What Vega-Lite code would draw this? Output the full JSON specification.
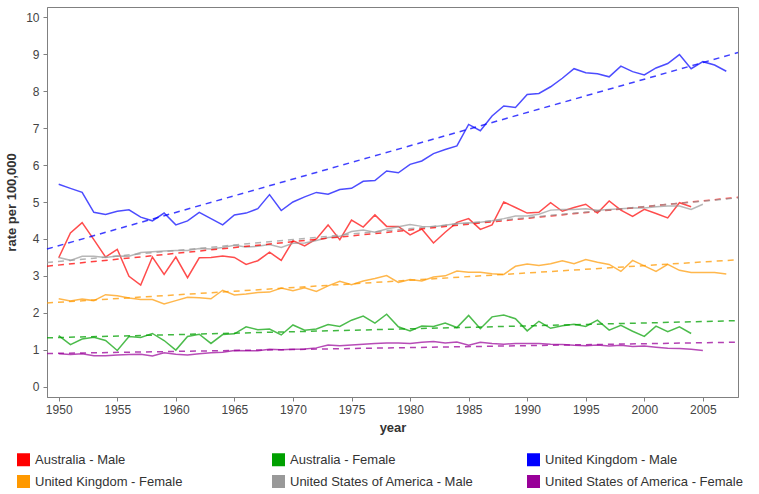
{
"$schema":"https://vega.github.io/schema/vega-lite/v6.json",
"width":691,"height":390,
"autosize":{"type":"none"},
"padding":{"left":47,"top":7,"right":21,"bottom":97},
"background":"white",
"config":{
 "view":{"stroke":"#808080","strokeWidth":1},
 "axis":{"labelFont":"Liberation Sans","titleFont":"Liberation Sans","labelFontSize":12,"titleFontSize":13,"labelColor":"#444444","titleColor":"#333333","domainColor":"#808080","tickColor":"#808080","grid":false,"tickSize":4,"titleFontWeight":"bold"},
 "legend":{"labelFont":"Liberation Sans","labelFontSize":13,"labelColor":"#333333"}
},
"data":{"values":[
{"series":"Australia - Male","year":1950,"rate":3.49},{"series":"Australia - Male","year":1951,"rate":4.16},{"series":"Australia - Male","year":1952,"rate":4.44},{"series":"Australia - Male","year":1953,"rate":3.98},{"series":"Australia - Male","year":1954,"rate":3.51},{"series":"Australia - Male","year":1955,"rate":3.72},{"series":"Australia - Male","year":1956,"rate":2.99},{"series":"Australia - Male","year":1957,"rate":2.75},{"series":"Australia - Male","year":1958,"rate":3.51},{"series":"Australia - Male","year":1959,"rate":3.04},{"series":"Australia - Male","year":1960,"rate":3.51},{"series":"Australia - Male","year":1961,"rate":2.95},{"series":"Australia - Male","year":1962,"rate":3.49},{"series":"Australia - Male","year":1963,"rate":3.5},{"series":"Australia - Male","year":1964,"rate":3.54},{"series":"Australia - Male","year":1965,"rate":3.5},{"series":"Australia - Male","year":1966,"rate":3.31},{"series":"Australia - Male","year":1967,"rate":3.41},{"series":"Australia - Male","year":1968,"rate":3.64},{"series":"Australia - Male","year":1969,"rate":3.42},{"series":"Australia - Male","year":1970,"rate":3.95},{"series":"Australia - Male","year":1971,"rate":3.81},{"series":"Australia - Male","year":1972,"rate":4.0},{"series":"Australia - Male","year":1973,"rate":4.38},{"series":"Australia - Male","year":1974,"rate":3.98},{"series":"Australia - Male","year":1975,"rate":4.51},{"series":"Australia - Male","year":1976,"rate":4.32},{"series":"Australia - Male","year":1977,"rate":4.65},{"series":"Australia - Male","year":1978,"rate":4.34},{"series":"Australia - Male","year":1979,"rate":4.34},{"series":"Australia - Male","year":1980,"rate":4.11},{"series":"Australia - Male","year":1981,"rate":4.27},{"series":"Australia - Male","year":1982,"rate":3.89},{"series":"Australia - Male","year":1983,"rate":4.18},{"series":"Australia - Male","year":1984,"rate":4.45},{"series":"Australia - Male","year":1985,"rate":4.55},{"series":"Australia - Male","year":1986,"rate":4.26},{"series":"Australia - Male","year":1987,"rate":4.38},{"series":"Australia - Male","year":1988,"rate":5.0},{"series":"Australia - Male","year":1989,"rate":4.85},{"series":"Australia - Male","year":1990,"rate":4.7},{"series":"Australia - Male","year":1991,"rate":4.72},{"series":"Australia - Male","year":1992,"rate":4.98},{"series":"Australia - Male","year":1993,"rate":4.75},{"series":"Australia - Male","year":1994,"rate":4.85},{"series":"Australia - Male","year":1995,"rate":4.94},{"series":"Australia - Male","year":1996,"rate":4.7},{"series":"Australia - Male","year":1997,"rate":5.03},{"series":"Australia - Male","year":1998,"rate":4.78},{"series":"Australia - Male","year":1999,"rate":4.61},{"series":"Australia - Male","year":2000,"rate":4.8},{"series":"Australia - Male","year":2001,"rate":4.69},{"series":"Australia - Male","year":2002,"rate":4.57},{"series":"Australia - Male","year":2003,"rate":4.98},{"series":"Australia - Male","year":2004,"rate":4.87},
{"series":"Australia - Female","year":1950,"rate":1.38},{"series":"Australia - Female","year":1951,"rate":1.14},{"series":"Australia - Female","year":1952,"rate":1.29},{"series":"Australia - Female","year":1953,"rate":1.34},{"series":"Australia - Female","year":1954,"rate":1.25},{"series":"Australia - Female","year":1955,"rate":0.98},{"series":"Australia - Female","year":1956,"rate":1.36},{"series":"Australia - Female","year":1957,"rate":1.33},{"series":"Australia - Female","year":1958,"rate":1.44},{"series":"Australia - Female","year":1959,"rate":1.25},{"series":"Australia - Female","year":1960,"rate":0.99},{"series":"Australia - Female","year":1961,"rate":1.36},{"series":"Australia - Female","year":1962,"rate":1.42},{"series":"Australia - Female","year":1963,"rate":1.17},{"series":"Australia - Female","year":1964,"rate":1.41},{"series":"Australia - Female","year":1965,"rate":1.43},{"series":"Australia - Female","year":1966,"rate":1.62},{"series":"Australia - Female","year":1967,"rate":1.54},{"series":"Australia - Female","year":1968,"rate":1.56},{"series":"Australia - Female","year":1969,"rate":1.4},{"series":"Australia - Female","year":1970,"rate":1.67},{"series":"Australia - Female","year":1971,"rate":1.53},{"series":"Australia - Female","year":1972,"rate":1.56},{"series":"Australia - Female","year":1973,"rate":1.68},{"series":"Australia - Female","year":1974,"rate":1.63},{"series":"Australia - Female","year":1975,"rate":1.8},{"series":"Australia - Female","year":1976,"rate":1.91},{"series":"Australia - Female","year":1977,"rate":1.72},{"series":"Australia - Female","year":1978,"rate":1.96},{"series":"Australia - Female","year":1979,"rate":1.62},{"series":"Australia - Female","year":1980,"rate":1.51},{"series":"Australia - Female","year":1981,"rate":1.64},{"series":"Australia - Female","year":1982,"rate":1.63},{"series":"Australia - Female","year":1983,"rate":1.72},{"series":"Australia - Female","year":1984,"rate":1.6},{"series":"Australia - Female","year":1985,"rate":1.93},{"series":"Australia - Female","year":1986,"rate":1.57},{"series":"Australia - Female","year":1987,"rate":1.89},{"series":"Australia - Female","year":1988,"rate":1.94},{"series":"Australia - Female","year":1989,"rate":1.84},{"series":"Australia - Female","year":1990,"rate":1.51},{"series":"Australia - Female","year":1991,"rate":1.77},{"series":"Australia - Female","year":1992,"rate":1.58},{"series":"Australia - Female","year":1993,"rate":1.65},{"series":"Australia - Female","year":1994,"rate":1.69},{"series":"Australia - Female","year":1995,"rate":1.63},{"series":"Australia - Female","year":1996,"rate":1.8},{"series":"Australia - Female","year":1997,"rate":1.53},{"series":"Australia - Female","year":1998,"rate":1.66},{"series":"Australia - Female","year":1999,"rate":1.5},{"series":"Australia - Female","year":2000,"rate":1.36},{"series":"Australia - Female","year":2001,"rate":1.64},{"series":"Australia - Female","year":2002,"rate":1.49},{"series":"Australia - Female","year":2003,"rate":1.62},{"series":"Australia - Female","year":2004,"rate":1.44},
{"series":"United Kingdom - Male","year":1950,"rate":5.48},{"series":"United Kingdom - Male","year":1951,"rate":5.37},{"series":"United Kingdom - Male","year":1952,"rate":5.26},{"series":"United Kingdom - Male","year":1953,"rate":4.72},{"series":"United Kingdom - Male","year":1954,"rate":4.66},{"series":"United Kingdom - Male","year":1955,"rate":4.75},{"series":"United Kingdom - Male","year":1956,"rate":4.79},{"series":"United Kingdom - Male","year":1957,"rate":4.59},{"series":"United Kingdom - Male","year":1958,"rate":4.49},{"series":"United Kingdom - Male","year":1959,"rate":4.7},{"series":"United Kingdom - Male","year":1960,"rate":4.38},{"series":"United Kingdom - Male","year":1961,"rate":4.49},{"series":"United Kingdom - Male","year":1962,"rate":4.72},{"series":"United Kingdom - Male","year":1963,"rate":4.55},{"series":"United Kingdom - Male","year":1964,"rate":4.38},{"series":"United Kingdom - Male","year":1965,"rate":4.65},{"series":"United Kingdom - Male","year":1966,"rate":4.7},{"series":"United Kingdom - Male","year":1967,"rate":4.82},{"series":"United Kingdom - Male","year":1968,"rate":5.2},{"series":"United Kingdom - Male","year":1969,"rate":4.77},{"series":"United Kingdom - Male","year":1970,"rate":5.0},{"series":"United Kingdom - Male","year":1971,"rate":5.14},{"series":"United Kingdom - Male","year":1972,"rate":5.26},{"series":"United Kingdom - Male","year":1973,"rate":5.21},{"series":"United Kingdom - Male","year":1974,"rate":5.34},{"series":"United Kingdom - Male","year":1975,"rate":5.37},{"series":"United Kingdom - Male","year":1976,"rate":5.56},{"series":"United Kingdom - Male","year":1977,"rate":5.58},{"series":"United Kingdom - Male","year":1978,"rate":5.84},{"series":"United Kingdom - Male","year":1979,"rate":5.79},{"series":"United Kingdom - Male","year":1980,"rate":6.02},{"series":"United Kingdom - Male","year":1981,"rate":6.11},{"series":"United Kingdom - Male","year":1982,"rate":6.31},{"series":"United Kingdom - Male","year":1983,"rate":6.42},{"series":"United Kingdom - Male","year":1984,"rate":6.52},{"series":"United Kingdom - Male","year":1985,"rate":7.1},{"series":"United Kingdom - Male","year":1986,"rate":6.93},{"series":"United Kingdom - Male","year":1987,"rate":7.33},{"series":"United Kingdom - Male","year":1988,"rate":7.6},{"series":"United Kingdom - Male","year":1989,"rate":7.56},{"series":"United Kingdom - Male","year":1990,"rate":7.91},{"series":"United Kingdom - Male","year":1991,"rate":7.94},{"series":"United Kingdom - Male","year":1992,"rate":8.12},{"series":"United Kingdom - Male","year":1993,"rate":8.35},{"series":"United Kingdom - Male","year":1994,"rate":8.61},{"series":"United Kingdom - Male","year":1995,"rate":8.5},{"series":"United Kingdom - Male","year":1996,"rate":8.47},{"series":"United Kingdom - Male","year":1997,"rate":8.39},{"series":"United Kingdom - Male","year":1998,"rate":8.68},{"series":"United Kingdom - Male","year":1999,"rate":8.53},{"series":"United Kingdom - Male","year":2000,"rate":8.44},{"series":"United Kingdom - Male","year":2001,"rate":8.63},{"series":"United Kingdom - Male","year":2002,"rate":8.75},{"series":"United Kingdom - Male","year":2003,"rate":8.99},{"series":"United Kingdom - Male","year":2004,"rate":8.61},{"series":"United Kingdom - Male","year":2005,"rate":8.8},{"series":"United Kingdom - Male","year":2006,"rate":8.71},{"series":"United Kingdom - Male","year":2007,"rate":8.54},
{"series":"United Kingdom - Female","year":1950,"rate":2.38},{"series":"United Kingdom - Female","year":1951,"rate":2.32},{"series":"United Kingdom - Female","year":1952,"rate":2.37},{"series":"United Kingdom - Female","year":1953,"rate":2.33},{"series":"United Kingdom - Female","year":1954,"rate":2.49},{"series":"United Kingdom - Female","year":1955,"rate":2.46},{"series":"United Kingdom - Female","year":1956,"rate":2.4},{"series":"United Kingdom - Female","year":1957,"rate":2.36},{"series":"United Kingdom - Female","year":1958,"rate":2.36},{"series":"United Kingdom - Female","year":1959,"rate":2.24},{"series":"United Kingdom - Female","year":1960,"rate":2.33},{"series":"United Kingdom - Female","year":1961,"rate":2.42},{"series":"United Kingdom - Female","year":1962,"rate":2.41},{"series":"United Kingdom - Female","year":1963,"rate":2.38},{"series":"United Kingdom - Female","year":1964,"rate":2.61},{"series":"United Kingdom - Female","year":1965,"rate":2.48},{"series":"United Kingdom - Female","year":1966,"rate":2.51},{"series":"United Kingdom - Female","year":1967,"rate":2.55},{"series":"United Kingdom - Female","year":1968,"rate":2.56},{"series":"United Kingdom - Female","year":1969,"rate":2.67},{"series":"United Kingdom - Female","year":1970,"rate":2.6},{"series":"United Kingdom - Female","year":1971,"rate":2.68},{"series":"United Kingdom - Female","year":1972,"rate":2.58},{"series":"United Kingdom - Female","year":1973,"rate":2.73},{"series":"United Kingdom - Female","year":1974,"rate":2.85},{"series":"United Kingdom - Female","year":1975,"rate":2.76},{"series":"United Kingdom - Female","year":1976,"rate":2.86},{"series":"United Kingdom - Female","year":1977,"rate":2.93},{"series":"United Kingdom - Female","year":1978,"rate":3.01},{"series":"United Kingdom - Female","year":1979,"rate":2.82},{"series":"United Kingdom - Female","year":1980,"rate":2.9},{"series":"United Kingdom - Female","year":1981,"rate":2.86},{"series":"United Kingdom - Female","year":1982,"rate":2.97},{"series":"United Kingdom - Female","year":1983,"rate":3.0},{"series":"United Kingdom - Female","year":1984,"rate":3.13},{"series":"United Kingdom - Female","year":1985,"rate":3.1},{"series":"United Kingdom - Female","year":1986,"rate":3.1},{"series":"United Kingdom - Female","year":1987,"rate":3.06},{"series":"United Kingdom - Female","year":1988,"rate":3.04},{"series":"United Kingdom - Female","year":1989,"rate":3.26},{"series":"United Kingdom - Female","year":1990,"rate":3.32},{"series":"United Kingdom - Female","year":1991,"rate":3.28},{"series":"United Kingdom - Female","year":1992,"rate":3.33},{"series":"United Kingdom - Female","year":1993,"rate":3.41},{"series":"United Kingdom - Female","year":1994,"rate":3.33},{"series":"United Kingdom - Female","year":1995,"rate":3.44},{"series":"United Kingdom - Female","year":1996,"rate":3.37},{"series":"United Kingdom - Female","year":1997,"rate":3.31},{"series":"United Kingdom - Female","year":1998,"rate":3.12},{"series":"United Kingdom - Female","year":1999,"rate":3.42},{"series":"United Kingdom - Female","year":2000,"rate":3.27},{"series":"United Kingdom - Female","year":2001,"rate":3.12},{"series":"United Kingdom - Female","year":2002,"rate":3.31},{"series":"United Kingdom - Female","year":2003,"rate":3.15},{"series":"United Kingdom - Female","year":2004,"rate":3.09},{"series":"United Kingdom - Female","year":2005,"rate":3.09},{"series":"United Kingdom - Female","year":2006,"rate":3.09},{"series":"United Kingdom - Female","year":2007,"rate":3.05},
{"series":"United States of America - Male","year":1950,"rate":3.5},{"series":"United States of America - Male","year":1951,"rate":3.42},{"series":"United States of America - Male","year":1952,"rate":3.53},{"series":"United States of America - Male","year":1953,"rate":3.53},{"series":"United States of America - Male","year":1954,"rate":3.5},{"series":"United States of America - Male","year":1955,"rate":3.54},{"series":"United States of America - Male","year":1956,"rate":3.53},{"series":"United States of America - Male","year":1957,"rate":3.63},{"series":"United States of America - Male","year":1958,"rate":3.65},{"series":"United States of America - Male","year":1959,"rate":3.67},{"series":"United States of America - Male","year":1960,"rate":3.69},{"series":"United States of America - Male","year":1961,"rate":3.69},{"series":"United States of America - Male","year":1962,"rate":3.74},{"series":"United States of America - Male","year":1963,"rate":3.73},{"series":"United States of America - Male","year":1964,"rate":3.77},{"series":"United States of America - Male","year":1965,"rate":3.83},{"series":"United States of America - Male","year":1966,"rate":3.78},{"series":"United States of America - Male","year":1967,"rate":3.8},{"series":"United States of America - Male","year":1968,"rate":3.85},{"series":"United States of America - Male","year":1969,"rate":3.77},{"series":"United States of America - Male","year":1970,"rate":3.88},{"series":"United States of America - Male","year":1971,"rate":3.89},{"series":"United States of America - Male","year":1972,"rate":3.96},{"series":"United States of America - Male","year":1973,"rate":4.04},{"series":"United States of America - Male","year":1974,"rate":4.07},{"series":"United States of America - Male","year":1975,"rate":4.2},{"series":"United States of America - Male","year":1976,"rate":4.24},{"series":"United States of America - Male","year":1977,"rate":4.18},{"series":"United States of America - Male","year":1978,"rate":4.27},{"series":"United States of America - Male","year":1979,"rate":4.33},{"series":"United States of America - Male","year":1980,"rate":4.39},{"series":"United States of America - Male","year":1981,"rate":4.34},{"series":"United States of America - Male","year":1982,"rate":4.33},{"series":"United States of America - Male","year":1983,"rate":4.37},{"series":"United States of America - Male","year":1984,"rate":4.42},{"series":"United States of America - Male","year":1985,"rate":4.43},{"series":"United States of America - Male","year":1986,"rate":4.45},{"series":"United States of America - Male","year":1987,"rate":4.49},{"series":"United States of America - Male","year":1988,"rate":4.55},{"series":"United States of America - Male","year":1989,"rate":4.62},{"series":"United States of America - Male","year":1990,"rate":4.62},{"series":"United States of America - Male","year":1991,"rate":4.67},{"series":"United States of America - Male","year":1992,"rate":4.78},{"series":"United States of America - Male","year":1993,"rate":4.8},{"series":"United States of America - Male","year":1994,"rate":4.8},{"series":"United States of America - Male","year":1995,"rate":4.82},{"series":"United States of America - Male","year":1996,"rate":4.78},{"series":"United States of America - Male","year":1997,"rate":4.8},{"series":"United States of America - Male","year":1998,"rate":4.82},{"series":"United States of America - Male","year":1999,"rate":4.84},{"series":"United States of America - Male","year":2000,"rate":4.84},{"series":"United States of America - Male","year":2001,"rate":4.87},{"series":"United States of America - Male","year":2002,"rate":4.89},{"series":"United States of America - Male","year":2003,"rate":4.89},{"series":"United States of America - Male","year":2004,"rate":4.8},{"series":"United States of America - Male","year":2005,"rate":4.94},
{"series":"United States of America - Female","year":1950,"rate":0.89},{"series":"United States of America - Female","year":1951,"rate":0.87},{"series":"United States of America - Female","year":1952,"rate":0.89},{"series":"United States of America - Female","year":1953,"rate":0.84},{"series":"United States of America - Female","year":1954,"rate":0.84},{"series":"United States of America - Female","year":1955,"rate":0.86},{"series":"United States of America - Female","year":1956,"rate":0.87},{"series":"United States of America - Female","year":1957,"rate":0.88},{"series":"United States of America - Female","year":1958,"rate":0.83},{"series":"United States of America - Female","year":1959,"rate":0.92},{"series":"United States of America - Female","year":1960,"rate":0.88},{"series":"United States of America - Female","year":1961,"rate":0.86},{"series":"United States of America - Female","year":1962,"rate":0.89},{"series":"United States of America - Female","year":1963,"rate":0.92},{"series":"United States of America - Female","year":1964,"rate":0.93},{"series":"United States of America - Female","year":1965,"rate":0.98},{"series":"United States of America - Female","year":1966,"rate":0.97},{"series":"United States of America - Female","year":1967,"rate":0.97},{"series":"United States of America - Female","year":1968,"rate":1.01},{"series":"United States of America - Female","year":1969,"rate":1.0},{"series":"United States of America - Female","year":1970,"rate":1.01},{"series":"United States of America - Female","year":1971,"rate":1.02},{"series":"United States of America - Female","year":1972,"rate":1.05},{"series":"United States of America - Female","year":1973,"rate":1.13},{"series":"United States of America - Female","year":1974,"rate":1.11},{"series":"United States of America - Female","year":1975,"rate":1.13},{"series":"United States of America - Female","year":1976,"rate":1.15},{"series":"United States of America - Female","year":1977,"rate":1.17},{"series":"United States of America - Female","year":1978,"rate":1.18},{"series":"United States of America - Female","year":1979,"rate":1.18},{"series":"United States of America - Female","year":1980,"rate":1.17},{"series":"United States of America - Female","year":1981,"rate":1.2},{"series":"United States of America - Female","year":1982,"rate":1.22},{"series":"United States of America - Female","year":1983,"rate":1.18},{"series":"United States of America - Female","year":1984,"rate":1.21},{"series":"United States of America - Female","year":1985,"rate":1.12},{"series":"United States of America - Female","year":1986,"rate":1.2},{"series":"United States of America - Female","year":1987,"rate":1.17},{"series":"United States of America - Female","year":1988,"rate":1.15},{"series":"United States of America - Female","year":1989,"rate":1.17},{"series":"United States of America - Female","year":1990,"rate":1.17},{"series":"United States of America - Female","year":1991,"rate":1.17},{"series":"United States of America - Female","year":1992,"rate":1.15},{"series":"United States of America - Female","year":1993,"rate":1.14},{"series":"United States of America - Female","year":1994,"rate":1.12},{"series":"United States of America - Female","year":1995,"rate":1.11},{"series":"United States of America - Female","year":1996,"rate":1.13},{"series":"United States of America - Female","year":1997,"rate":1.1},{"series":"United States of America - Female","year":1998,"rate":1.12},{"series":"United States of America - Female","year":1999,"rate":1.09},{"series":"United States of America - Female","year":2000,"rate":1.1},{"series":"United States of America - Female","year":2001,"rate":1.07},{"series":"United States of America - Female","year":2002,"rate":1.04},{"series":"United States of America - Female","year":2003,"rate":1.03},{"series":"United States of America - Female","year":2004,"rate":1.01},{"series":"United States of America - Female","year":2005,"rate":0.98}
]},
"encoding":{
 "x":{"field":"year","type":"quantitative","scale":{"domain":[1949,2008],"nice":false,"zero":false},"axis":{"values":[1950,1955,1960,1965,1970,1975,1980,1985,1990,1995,2000,2005],"format":"d","title":"year","labelPadding":3,"titlePadding":6}},
 "y":{"field":"rate","type":"quantitative","scale":{"domain":[-0.28,10.28],"nice":false,"zero":false},"axis":{"values":[0,1,2,3,4,5,6,7,8,9,10],"format":"d","title":"rate per 100,000","labelPadding":4,"titlePadding":7}},
 "color":{"field":"series","type":"nominal",
  "scale":{"domain":["Australia - Male","United Kingdom - Female","Australia - Female","United States of America - Male","United Kingdom - Male","United States of America - Female"],"range":["#ff0000","#ff9900","#00a000","#999999","#0000ff","#990099"]},
  "legend":{"title":null,"orient":"none","legendX":-30,"legendY":446,"columns":3,"gridAlign":"all","columnPadding":38,"rowPadding":8,"symbolType":"square","symbolSize":169,"symbolOpacity":1,"symbolStrokeWidth":0,"labelOffset":5,"labelLimit":260,
   "encode":{"symbols":{"update":{"fill":{"scale":"color","field":"value"},"opacity":{"value":1}}}}}}
},
"layer":[
 {"mark":{"type":"line","strokeWidth":1.5,"opacity":0.7}},
 {"transform":[{"regression":"rate","on":"year","groupby":["series"],"extent":[1949,2008]}],
  "mark":{"type":"line","strokeWidth":1.5,"strokeDash":[6,5],"opacity":0.75}}
]
}
